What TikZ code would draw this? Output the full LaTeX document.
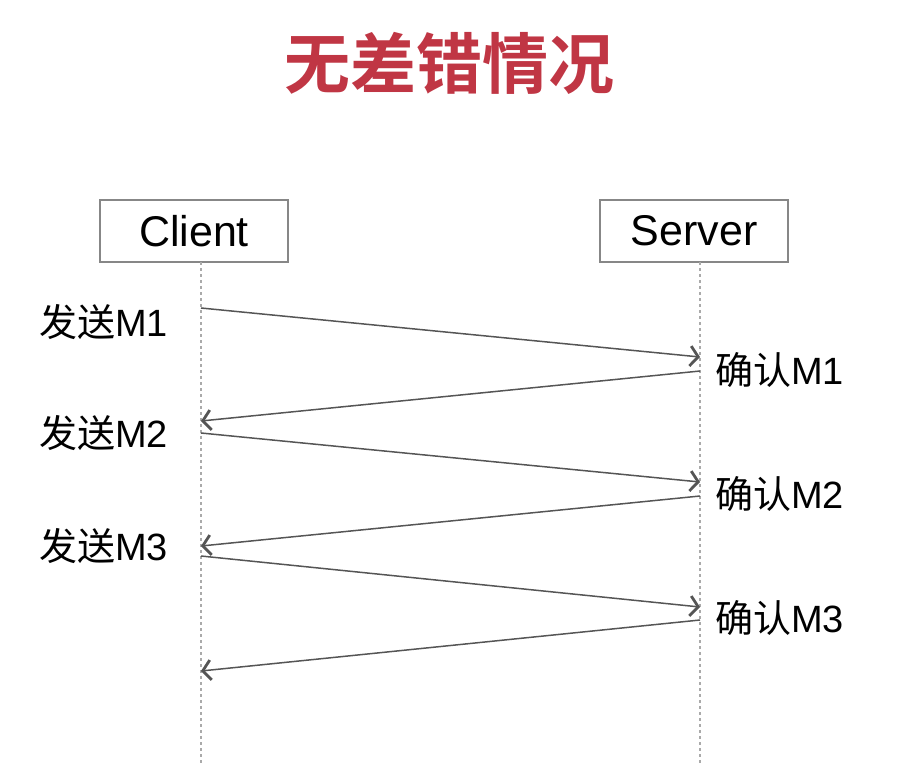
\documentclass[tikz,border=0pt]{standalone}
\usepackage{fontspec}
\setmainfont{Liberation Sans}
\newfontfamily\cjk{Noto Sans CJK SC}
\newfontfamily\cjkb{Noto Sans CJK SC Bold}
\usetikzlibrary{arrows.meta}
\definecolor{titlered}{RGB}{192,54,68}
\definecolor{boxgray}{RGB}{135,135,135}
\definecolor{msggray}{RGB}{85,85,85}
\definecolor{lifegray}{RGB}{170,170,170}
\newcommand{\lat}[1]{{\rmfamily #1}}
\begin{document}
\begin{tikzpicture}[x=1pt,y=-1pt,
  actor/.style={draw=boxgray,line width=1.3pt,minimum width=188pt,minimum height=62pt,inner sep=0pt,font=\fontsize{43}{43}\selectfont},
  lifeline/.style={draw=lifegray,line width=1.2pt,dash pattern=on 3pt off 3pt},
  msg/.style={draw=msggray,line width=1.5pt,-{Straight Barb[length=8pt,width=20pt,line width=2.8pt]}},
  lbl/.style={font=\cjk\fontsize{38}{38}\selectfont,inner sep=0pt}]
\useasboundingbox (0,0) rectangle (901,765);
\node[font=\cjkb\fontsize{66}{66}\selectfont,text=titlered] (title) at (449,63) {无差错情况};
\node[actor] (client) at (194,231) {Client};
\node[actor] (server) at (694,231) {Server};
% lifelines
\coordinate (ctop) at (201,262);
\coordinate (cbot) at (201,765);
\coordinate (stop) at (700,262);
\coordinate (sbot) at (700,765);
\draw[lifeline] (ctop) -- (cbot);
\draw[lifeline] (stop) -- (sbot);
% message end points
\coordinate (c1) at (201,308); \coordinate (s1) at (700,357);
\coordinate (s2) at (700,371); \coordinate (c2) at (201,421);
\coordinate (c3) at (201,433); \coordinate (s3) at (700,482);
\coordinate (s4) at (700,496); \coordinate (c4) at (201,546);
\coordinate (c5) at (201,556); \coordinate (s5) at (700,607);
\coordinate (s6) at (700,620); \coordinate (c6) at (201,671);
\draw[msg] (c1) -- (s1);
\draw[msg] (s2) -- (c2);
\draw[msg] (c3) -- (s3);
\draw[msg] (s4) -- (c4);
\draw[msg] (c5) -- (s5);
\draw[msg] (s6) -- (c6);
% labels
\node[lbl,anchor=west] (send1) at (39,322) {发送\lat{M1}};
\node[lbl,anchor=west] (send2) at (39,433) {发送\lat{M2}};
\node[lbl,anchor=west] (send3) at (39,546) {发送\lat{M3}};
\node[lbl,anchor=west] (ack1) at (715,370) {确认\lat{M1}};
\node[lbl,anchor=west] (ack2) at (715,494) {确认\lat{M2}};
\node[lbl,anchor=west] (ack3) at (715,618) {确认\lat{M3}};
\end{tikzpicture}
\end{document}
